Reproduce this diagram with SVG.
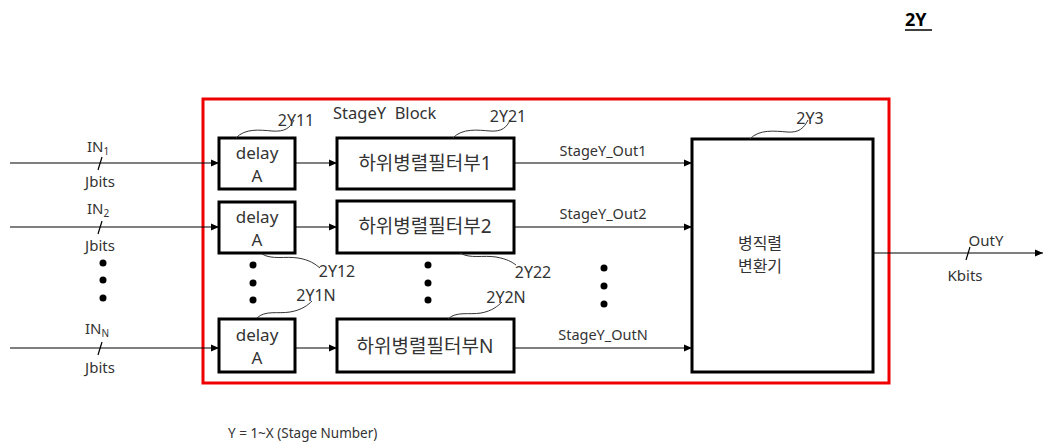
<svg xmlns="http://www.w3.org/2000/svg" width="1045" height="445" viewBox="0 0 1045 445">
<defs>
<marker id="ah" markerWidth="8" markerHeight="8" refX="8" refY="4" orient="auto" markerUnits="userSpaceOnUse">
<path d="M0,0.5 L8,4 L0,7.5 Z" fill="#000"/>
</marker>
<style>
.t{font-family:"Noto Sans","Noto Sans CJK KR",sans-serif;fill:#333}
.box{fill:#fff;stroke:#000;stroke-width:3}
.ln{stroke:#000;stroke-width:1.2;fill:none}
.lead{stroke:#333;stroke-width:1;fill:none}
.dot{fill:#000}
</style>
</defs>
<rect width="1045" height="445" fill="#fff"/>
<text x="905" y="26" font-size="18" font-weight="bold" font-family="Noto Sans, sans-serif" fill="#000">2Y</text>
<line x1="905" y1="30" x2="932" y2="30" stroke="#000" stroke-width="1.5"/>
<g id="stage-block">
<rect x="203" y="99" width="686" height="284" fill="none" stroke="#e00" stroke-width="3"/>
<text class="t" x="333" y="119" font-size="16.5" xml:space="preserve" style="white-space:pre">StageY  Block</text>
</g>
<g id="delay1"><rect class="box" x="219" y="138" width="76" height="51"/><text class="t" x="257" y="159" font-size="17" text-anchor="middle">delay</text><text class="t" x="257" y="182" font-size="17" text-anchor="middle">A</text></g>
<g id="delay2"><rect class="box" x="219" y="202" width="76" height="51"/><text class="t" x="257" y="223" font-size="17" text-anchor="middle">delay</text><text class="t" x="257" y="246" font-size="17" text-anchor="middle">A</text></g>
<g id="delayN"><rect class="box" x="219" y="319" width="76" height="53"/><text class="t" x="257" y="341" font-size="17" text-anchor="middle">delay</text><text class="t" x="257" y="364" font-size="17" text-anchor="middle">A</text></g>
<g id="filter1"><rect class="box" x="337" y="138" width="177" height="51"/><text class="t" x="425" y="170" font-size="19" text-anchor="middle">하위병렬필터부1</text></g>
<g id="filter2"><rect class="box" x="337" y="201" width="177" height="52"/><text class="t" x="425" y="233" font-size="19" text-anchor="middle">하위병렬필터부2</text></g>
<g id="filterN"><rect class="box" x="337" y="319" width="177" height="53"/><text class="t" x="425" y="353" font-size="19" text-anchor="middle">하위병렬필터부N</text></g>
<g id="converter"><rect class="box" x="692" y="139" width="181" height="233"/><text class="t" x="760" y="249" font-size="16" text-anchor="middle">병직렬</text><text class="t" x="760" y="272" font-size="16" text-anchor="middle">변환기</text></g>
<g id="connectors">
<line class="ln" x1="10" y1="163" x2="219" y2="163" marker-end="url(#ah)"/>
<line class="ln" x1="10" y1="227" x2="219" y2="227" marker-end="url(#ah)"/>
<line class="ln" x1="10" y1="348" x2="219" y2="348" marker-end="url(#ah)"/>
<line class="ln" x1="295" y1="163" x2="337" y2="163" marker-end="url(#ah)"/>
<line class="ln" x1="295" y1="227" x2="337" y2="227" marker-end="url(#ah)"/>
<line class="ln" x1="295" y1="348" x2="337" y2="348" marker-end="url(#ah)"/>
<line class="ln" x1="514" y1="163" x2="692" y2="163" marker-end="url(#ah)"/>
<line class="ln" x1="514" y1="227" x2="692" y2="227" marker-end="url(#ah)"/>
<line class="ln" x1="514" y1="348" x2="692" y2="348" marker-end="url(#ah)"/>
<line class="ln" x1="873" y1="253" x2="1043" y2="253" marker-end="url(#ah)"/>
<line class="ln" x1="98" y1="170" x2="102" y2="157"/>
<line class="ln" x1="98" y1="234" x2="102" y2="221"/>
<line class="ln" x1="98" y1="355" x2="102" y2="342"/>
<line class="ln" x1="966" y1="260" x2="970" y2="247"/>
<path class="lead" d="M236,138 C245,128 260,130 272,131 C285,132 290,128 294,120"/>
<path class="lead" d="M453,138 C462,128 478,130 490,131 C502,132 507,127 510,120"/>
<path class="lead" d="M750,139 C759,129 775,131 787,132 C799,133 804,128 808,120"/>
<path class="lead" d="M262,254 C272,260 285,256 298,258 C310,260 315,264 320,268"/>
<path class="lead" d="M460,253 C470,259 483,255 496,257 C507,259 512,262 516,265"/>
<path class="lead" d="M257,318 C265,310 278,314 290,312 C302,310 308,305 312,301"/>
<path class="lead" d="M448,319 C456,311 469,315 481,313 C492,311 498,306 502,302"/>
</g>
<g id="dots">
<circle class="dot" cx="103" cy="263" r="3.5"/><circle class="dot" cx="103" cy="280" r="3.5"/><circle class="dot" cx="103" cy="298" r="3.5"/>
<circle class="dot" cx="253" cy="265" r="3.5"/><circle class="dot" cx="253" cy="283" r="3.5"/><circle class="dot" cx="253" cy="300" r="3.5"/>
<circle class="dot" cx="428" cy="265" r="3.5"/><circle class="dot" cx="428" cy="283" r="3.5"/><circle class="dot" cx="428" cy="300" r="3.5"/>
<circle class="dot" cx="604" cy="268" r="3.5"/><circle class="dot" cx="604" cy="286" r="3.5"/><circle class="dot" cx="604" cy="304" r="3.5"/>
</g>
<g id="labels">
<text class="t" x="87" y="152" font-size="15">IN<tspan font-size="10" dy="3">1</tspan></text>
<text class="t" x="100" y="187" font-size="15" text-anchor="middle">Jbits</text>
<text class="t" x="87" y="214" font-size="15">IN<tspan font-size="10" dy="3">2</tspan></text>
<text class="t" x="100" y="251" font-size="15" text-anchor="middle">Jbits</text>
<text class="t" x="85" y="334" font-size="15">IN<tspan font-size="10" dy="3">N</tspan></text>
<text class="t" x="100" y="373" font-size="15" text-anchor="middle">Jbits</text>
<text class="t" x="986" y="246" font-size="15" text-anchor="middle">OutY</text>
<text class="t" x="965" y="281" font-size="15" text-anchor="middle">Kbits</text>
<text class="t" x="603" y="156" font-size="14.5" text-anchor="middle">StageY_Out1</text>
<text class="t" x="603" y="219" font-size="14.5" text-anchor="middle">StageY_Out2</text>
<text class="t" x="603" y="340" font-size="14.5" text-anchor="middle">StageY_OutN</text>
<text class="t" x="296" y="126" font-size="16" text-anchor="middle">2Y11</text>
<text class="t" x="508" y="122" font-size="16" text-anchor="middle">2Y21</text>
<text class="t" x="810" y="124" font-size="16" text-anchor="middle">2Y3</text>
<text class="t" x="337" y="277" font-size="16" text-anchor="middle">2Y12</text>
<text class="t" x="533" y="278" font-size="16" text-anchor="middle">2Y22</text>
<text class="t" x="316" y="301" font-size="16" text-anchor="middle">2Y1N</text>
<text class="t" x="506" y="303" font-size="16" text-anchor="middle">2Y2N</text>
<text class="t" x="228" y="438" font-size="13.5">Y = 1~X (Stage Number)</text>
</g>
</svg>
